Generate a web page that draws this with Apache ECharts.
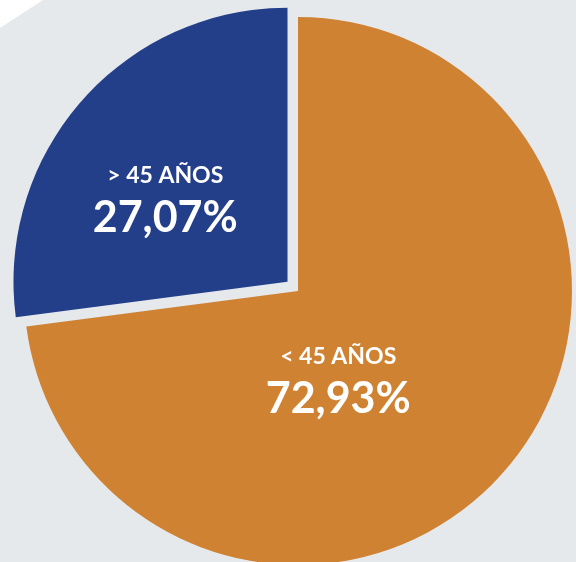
<!DOCTYPE html>
<html>
<head>
<meta charset="utf-8">
<script src="https://cdn.jsdelivr.net/npm/echarts@6/dist/echarts.min.js"></script>
<style>
  html, body { margin: 0; padding: 0; background: #e6e9ec; }
  #chart { width: 576px; height: 562px; }
</style>
</head>
<body>
<div id="chart"></div>
<script>
const categories = ['< 45 AÑOS', '> 45 AÑOS'];
const values = [72.93, 27.07];
const valueLabels = ['72,93%', '27,07%'];
const sliceColors = ['#d08233', '#233f8a'];
const labelOffsets = [[-65, -3], [-17, 10]];

const chart = echarts.init(document.getElementById('chart'), null, { renderer: 'canvas' });

const data = categories.map((c, i) => ({
  name: c,
  value: values[i],
  selected: i === 1,
  itemStyle: { color: sliceColors[i] },
  label: { offset: labelOffsets[i] },
  select: { label: { offset: labelOffsets[i] }, itemStyle: { color: sliceColors[i] } }
}));

chart.setOption({
  backgroundColor: '#e6e9ec',
  animation: false,
  graphic: [{
    type: 'polygon',
    shape: { points: [[0, 0], [43, 0], [0, 28]] },
    style: { fill: '#ffffff' },
    z: 0
  }],
  series: [{
    type: 'pie',
    center: [298, 291],
    radius: [0, 274],
    startAngle: 90,
    clockwise: true,
    selectedMode: 'single',
    selectedOffset: 14,
    silent: true,
    itemStyle: { borderWidth: 0 },
    label: {
      show: true,
      position: 'inside',
      color: '#ffffff',
      fontFamily: 'Lato',
      formatter: p => '{a|' + p.name + '}\n{b|' + valueLabels[p.dataIndex] + '}',
      rich: {
        a: { fontFamily: 'Lato', fontWeight: 'bold', fontSize: 23, color: '#ffffff', lineHeight: 38, align: 'center' },
        b: { fontFamily: 'Lato', fontWeight: 'bold', fontSize: 43, color: '#ffffff', lineHeight: 48, align: 'center' }
      }
    },
    labelLine: { show: false },
    data: data
  }]
});
</script>
</body>
</html>
